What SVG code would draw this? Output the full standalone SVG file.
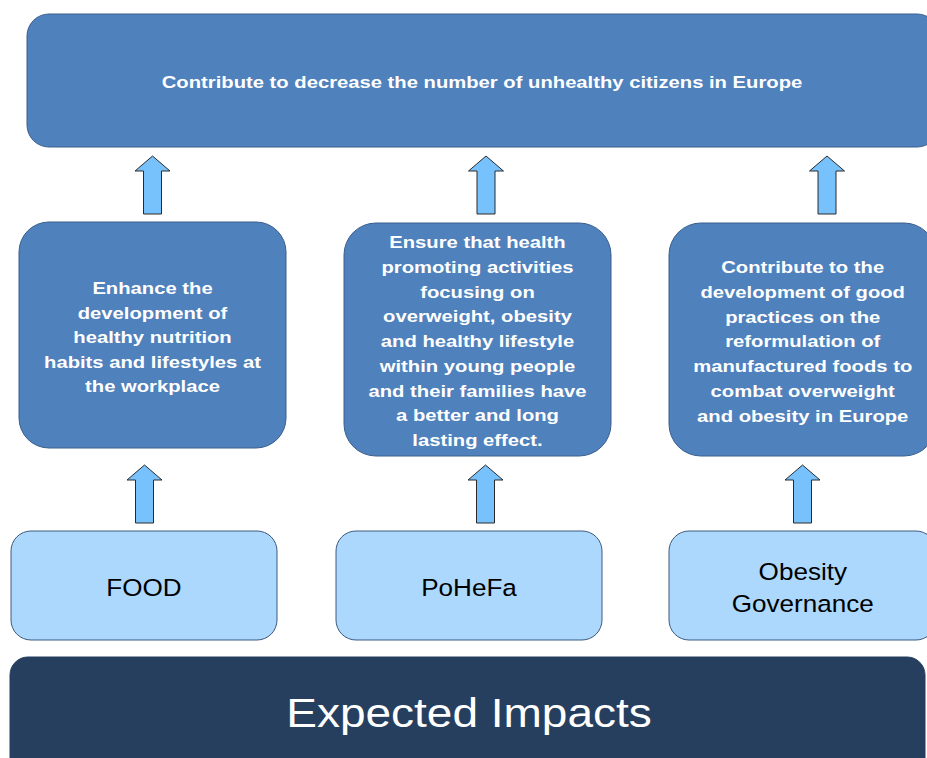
<svg xmlns="http://www.w3.org/2000/svg" width="927" height="758" viewBox="0 0 927 758">
<defs>
<style>
.goal{fill:#4f81bd;stroke:#3a5e8c;stroke-width:1}
.proj{fill:#acd8fd;stroke:#3d5a7e;stroke-width:1}
.base{fill:#263f5f;stroke:#263f5f;stroke-width:1}
.arrow{fill:#77c1fd;stroke:#2a2a2a;stroke-width:1;stroke-linejoin:miter}
.bt{font-family:"Liberation Sans",Arial,sans-serif;font-weight:bold;font-size:17.3px;fill:#ffffff;text-anchor:middle}
.pt{font-family:"Liberation Sans",Arial,sans-serif;font-size:23.5px;fill:#000000;text-anchor:middle}
.et{font-family:"Liberation Sans",Arial,sans-serif;font-size:40px;fill:#ffffff;text-anchor:middle}
</style>
</defs>
<rect width="927" height="758" fill="#ffffff"/>

<g id="connectors">
<polygon class="arrow" points="152.5,156 170,171 161.5,171 161.5,214 143.5,214 143.5,171 135,171"/>
<polygon class="arrow" points="486,156 503.5,171 495,171 495,214 477,214 477,171 468.5,171"/>
<polygon class="arrow" points="827,156 844.5,171 836,171 836,214 818,214 818,171 809.5,171"/>
<polygon class="arrow" points="144.5,465 162,480 153.5,480 153.5,523 135.5,523 135.5,480 127,480"/>
<polygon class="arrow" points="485.5,465 503,480 494.5,480 494.5,523 476.5,523 476.5,480 468,480"/>
<polygon class="arrow" points="802.5,465 820,480 811.5,480 811.5,523 793.5,523 793.5,480 785,480"/>
</g>

<g id="goal-top">
<rect class="goal" x="27" y="14" width="912" height="133" rx="22" ry="22"/>
<text class="bt" transform="translate(482,87.5) scale(1.17,1)">Contribute to decrease the number of unhealthy citizens in Europe</text>
</g>

<g id="impact-food">
<rect class="goal" x="19" y="222" width="267" height="226" rx="30" ry="30"/>
<text class="bt" transform="translate(152.5,294) scale(1.17,1)">Enhance the</text>
<text class="bt" transform="translate(152.5,318.5) scale(1.17,1)">development of</text>
<text class="bt" transform="translate(152.5,343) scale(1.17,1)">healthy nutrition</text>
<text class="bt" transform="translate(152.5,367.5) scale(1.17,1)">habits and lifestyles at</text>
<text class="bt" transform="translate(152.5,392) scale(1.17,1)">the workplace</text>
</g>

<g id="impact-pohefa">
<rect class="goal" x="344" y="223" width="267" height="233" rx="32" ry="32"/>
<text class="bt" transform="translate(477.5,248.3) scale(1.17,1)">Ensure that health</text>
<text class="bt" transform="translate(477.5,273) scale(1.17,1)">promoting activities</text>
<text class="bt" transform="translate(477.5,297.7) scale(1.17,1)">focusing on</text>
<text class="bt" transform="translate(477.5,322.4) scale(1.17,1)">overweight, obesity</text>
<text class="bt" transform="translate(477.5,347.1) scale(1.17,1)">and healthy lifestyle</text>
<text class="bt" transform="translate(477.5,371.8) scale(1.17,1)">within young people</text>
<text class="bt" transform="translate(477.5,396.5) scale(1.17,1)">and their families have</text>
<text class="bt" transform="translate(477.5,421.2) scale(1.17,1)">a better and long</text>
<text class="bt" transform="translate(477.5,446) scale(1.17,1)">lasting effect.</text>
</g>

<g id="impact-obesity">
<rect class="goal" x="669" y="223" width="267" height="233" rx="32" ry="32"/>
<text class="bt" transform="translate(802.7,273.3) scale(1.17,1)">Contribute to the</text>
<text class="bt" transform="translate(802.7,298) scale(1.17,1)">development of good</text>
<text class="bt" transform="translate(802.7,322.7) scale(1.17,1)">practices on the</text>
<text class="bt" transform="translate(802.7,347.4) scale(1.17,1)">reformulation of</text>
<text class="bt" transform="translate(802.7,372.1) scale(1.17,1)">manufactured foods to</text>
<text class="bt" transform="translate(802.7,396.8) scale(1.17,1)">combat overweight</text>
<text class="bt" transform="translate(802.7,421.7) scale(1.17,1)">and obesity in Europe</text>
</g>

<g id="project-food">
<rect class="proj" x="11" y="531" width="266" height="109" rx="20" ry="20"/>
<text class="pt" transform="translate(144,596) scale(1.11,1)">FOOD</text>
</g>

<g id="project-pohefa">
<rect class="proj" x="336" y="531" width="266" height="109" rx="20" ry="20"/>
<text class="pt" transform="translate(469,596) scale(1.11,1)">PoHeFa</text>
</g>

<g id="project-obesity">
<rect class="proj" x="669" y="531" width="267" height="109" rx="20" ry="20"/>
<text class="pt" transform="translate(802.8,579.5) scale(1.11,1)">Obesity</text>
<text class="pt" transform="translate(802.8,611.7) scale(1.11,1)">Governance</text>
</g>

<g id="expected-impacts">
<rect class="base" x="10" y="657" width="915" height="120" rx="18" ry="18"/>
<text class="et" transform="translate(469,726.7) scale(1.15,1)">Expected Impacts</text>
</g>
</svg>
